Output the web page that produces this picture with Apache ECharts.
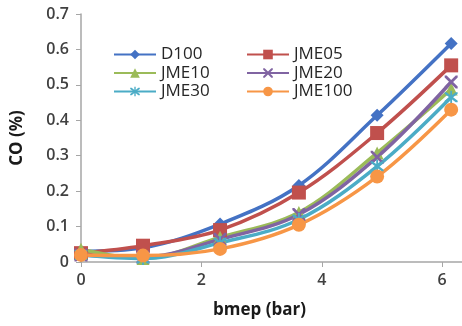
<!DOCTYPE html>
<html>
<head>
<meta charset="utf-8">
<script src="https://cdn.jsdelivr.net/npm/echarts@6/dist/echarts.min.js"></script>
<style>
  html, body { margin: 0; padding: 0; background: #fff; }
  #chart { width: 462px; height: 326px; }
</style>
</head>
<body>
<div id="chart"></div>
<script>
// bmep (bar) load points
var bmep = [0, 1.03, 2.31, 3.62, 4.92, 6.15];

// CO (%) for each fuel blend
var d100   = [0.030, 0.040, 0.107, 0.216, 0.414, 0.617];
var jme05  = [0.025, 0.046, 0.090, 0.196, 0.364, 0.555];
var jme10  = [0.036, 0.010, 0.070, 0.140, 0.308, 0.488];
var jme20  = [0.020, 0.014, 0.064, 0.134, 0.296, 0.508];
var jme30  = [0.020, 0.010, 0.054, 0.120, 0.270, 0.465];
var jme100 = [0.020, 0.018, 0.037, 0.105, 0.241, 0.430];

var yTicks = [0, 0.1, 0.2, 0.3, 0.4, 0.5, 0.6, 0.7];
var xTicks = [0, 2, 4, 6];

var crossPath = 'path://M0,0L3,0L10,7L17,0L20,0L20,3L13,10L20,17L20,20L17,20L10,13L3,20L0,20L0,17L7,10L0,3Z';
var starPath = 'path://M0,0L3,0L10,7L17,0L20,0L20,3L13,10L20,17L20,20L17,20L10,13L3,20L0,20L0,17L7,10L0,3Z M8.6,-3L11.4,-3L11.4,23L8.6,23Z';

function pairs(ys) {
    var out = [];
    for (var i = 0; i < bmep.length; i++) {
        out.push([bmep[i], ys[i]]);
    }
    return out;
}

function makeSeries(name, ys, color, symbol, size) {
    return {
        name: name,
        type: 'line',
        smooth: 0.35,
        data: pairs(ys),
        symbol: symbol,
        symbolSize: size,
        lineStyle: { color: color, width: 3.5 },
        itemStyle: { color: color }
    };
}

var series = [
    makeSeries('D100', d100, '#4472c4', 'diamond', 13),
    makeSeries('JME05', jme05, '#c0504d', 'rect', 14),
    makeSeries('JME10', jme10, '#9bbb59', 'triangle', 13),
    makeSeries('JME20', jme20, '#8064a2', crossPath, 13),
    makeSeries('JME30', jme30, '#4bacc6', starPath, 13),
    makeSeries('JME100', jme100, '#f79646', 'circle', 14)
];

var labelFont = { fontFamily: 'Open Sans', fontSize: 16, fontWeight: 600, color: '#404040' };

var legendBase = {
    orient: 'vertical',
    top: 46,
    padding: 0,
    itemWidth: 42,
    itemHeight: 12,
    itemGap: 1.5,
    textStyle: { fontFamily: 'Open Sans', fontSize: 17, color: '#262626' }
};

var chart = echarts.init(document.getElementById('chart'));
chart.setOption({
    animation: false,
    backgroundColor: '#ffffff',
    grid: { left: 81, top: 14, right: 0, bottom: 64, containLabel: false },
    legend: [
        Object.assign({}, legendBase, { left: 113, data: ['D100', 'JME10', 'JME30'] }),
        Object.assign({}, legendBase, { left: 246, data: ['JME05', 'JME20', 'JME100'] })
    ],
    xAxis: {
        type: 'value',
        min: 0,
        max: 6.33,
        interval: 2,
        name: 'bmep (bar)',
        nameLocation: 'middle',
        nameGap: 40,
        nameTextStyle: { fontFamily: 'Open Sans', fontSize: 17, fontWeight: 'bold', color: '#1a1a1a', padding: [0, 24, 0, 0] },
        axisLine: { lineStyle: { color: '#a6a6a6', width: 1.5 } },
        axisTick: { show: true, length: 5, lineStyle: { color: '#a6a6a6' } },
        axisLabel: Object.assign({}, labelFont, {
            margin: 10,
            showMaxLabel: false,
            formatter: function (v) { return xTicks.indexOf(v) >= 0 ? String(v) : ''; }
        }),
        splitLine: { show: false }
    },
    yAxis: {
        type: 'value',
        min: 0,
        max: 0.7,
        interval: 0.1,
        name: 'CO (%)',
        nameLocation: 'middle',
        nameGap: 55,
        nameTextStyle: { fontFamily: 'Open Sans', fontSize: 17, fontWeight: 'bold', color: '#1a1a1a' },
        axisLine: { show: true, lineStyle: { color: '#a6a6a6', width: 1.5 } },
        axisTick: { show: true, length: 5, lineStyle: { color: '#a6a6a6' } },
        axisLabel: Object.assign({}, labelFont, {
            margin: 12,
            formatter: function (v) {
                var t = Math.round(v * 10) / 10;
                return yTicks.indexOf(t) >= 0 ? String(t) : '';
            }
        }),
        splitLine: { show: false }
    },
    series: series
});
</script>
</body>
</html>
